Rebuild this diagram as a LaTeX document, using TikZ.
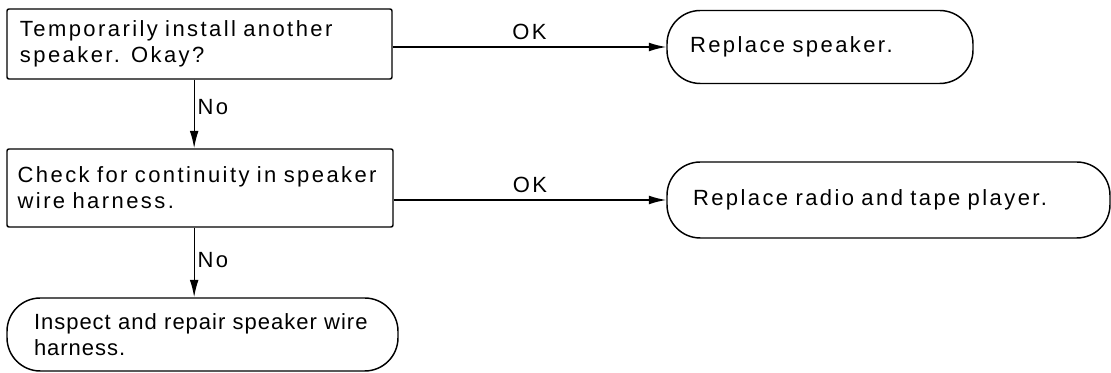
\documentclass[tikz,border=0pt]{standalone}
\usepackage{fontspec}
\setmainfont{Liberation Sans}
\newfontfamily\wideface[LetterSpace=11]{Liberation Sans}
\newfontfamily\narrowface[LetterSpace=4.5]{Liberation Sans}
\usetikzlibrary{arrows.meta,positioning}
\tikzset{
  chk/.style={rectangle, draw, line width=1.1pt, rounded corners=1.5pt,
              align=left, inner ysep=0pt},
  term/.style={rectangle, draw, line width=1.1pt, rounded corners=25pt,
               align=left, inner ysep=0pt},
  fl/.style={-{Latex[length=13pt,width=6.5pt]}, line width=1pt},
  lbl/.style={inner sep=2pt}
}

\begin{document}
\begin{tikzpicture}[x=0.75pt, y=-0.75pt,
    font=\wideface\fontsize{16.5}{19.5}\selectfont]
  \useasboundingbox (0,0) rectangle (1111,373);
  \node[chk, minimum width=288.75pt, minimum height=52.5pt, inner xsep=9.75pt,
        text width=269.25pt] (inst) at (199.5,44)
        {Temporarily install another\\speaker. Okay?};
  \node[chk, minimum width=289.5pt, minimum height=58.5pt, inner xsep=8pt,
        text width=273.5pt] (cont) at (200,188)
        {Check for continuity in speaker\\wire harness.};
  \node[term, minimum width=229.5pt, minimum height=54.75pt, inner xsep=17.25pt,
        text width=195pt] (swap) at (820,47) {Replace speaker.};
  \node[term, minimum width=332.25pt, minimum height=57pt, inner xsep=19.5pt,
        text width=293.25pt] (radio) at (888.5,200) {Replace radio and tape player.};
  \node[term, minimum width=293.25pt, minimum height=54.75pt, inner xsep=20.25pt,
        text width=252.75pt, font=\narrowface\fontsize{16.5}{19.5}\selectfont]
        (harn) at (202.5,334.5) {Inspect and repair speaker wire\\harness.};
  \draw[fl] (inst.east |- swap.west) -- node[lbl, above=3pt]{OK} (swap.west);
  \draw[fl] (cont.east |- radio.west) -- node[lbl, above=3pt]{OK} (radio.west);
  \draw[fl] ([xshift=-4pt]inst.south) -- node[lbl, right, pos=0.4]{No}
            ([xshift=-4pt]inst.south |- cont.north);
  \draw[fl] ([xshift=-4pt]inst.south |- cont.south) -- node[lbl, right, pos=0.46]{No}
            ([xshift=-4pt]inst.south |- harn.north);
\end{tikzpicture}
\end{document}
